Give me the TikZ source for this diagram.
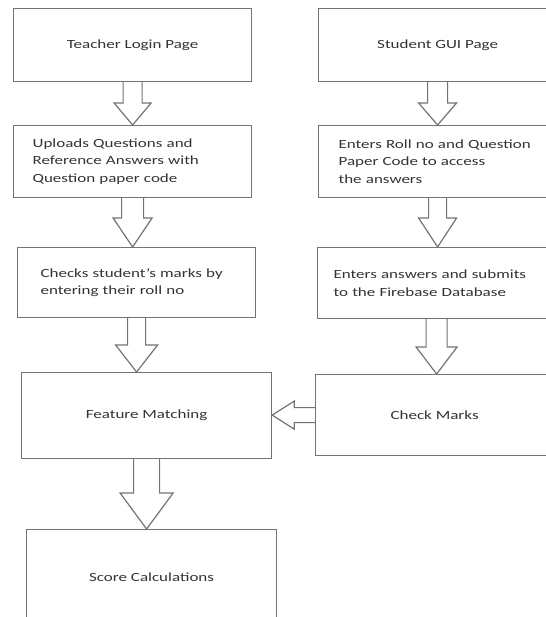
\documentclass[tikz,border=0pt]{standalone}
\usepackage{fontspec}
\setmainfont{Carlito}[FakeStretch=1.36]
\usetikzlibrary{calc}
\newcommand*{\DownArrow}[5]{% #1 = from node, #2 = to node, #3 = shaft half width, #4 = head half width, #5 = head length
\draw [fatarrow]
  ($(#1.south)+(-#3,0)$) -- ($(#1.south |- #2.north)+(-#3,#5)$)
  -- ($(#1.south |- #2.north)+(-#4,#5)$) -- (#1.south |- #2.north)
  -- ($(#1.south |- #2.north)+(#4,#5)$) -- ($(#1.south |- #2.north)+(#3,#5)$)
  -- ($(#1.south)+(#3,0)$);
}
\newcommand*{\LeftArrow}[5]{% #1 = from node, #2 = to node, #3 = shaft half width, #4 = head half width, #5 = head length
\draw [fatarrow]
  ($(#1.west)+(0,#3)$) -- ($(#1.west -| #2.east)+(#5,#3)$)
  -- ($(#1.west -| #2.east)+(#5,#4)$) -- (#1.west -| #2.east)
  -- ($(#1.west -| #2.east)+(#5,-#4)$) -- ($(#1.west -| #2.east)+(#5,-#3)$)
  -- ($(#1.west)+(0,-#3)$);
}

\begin{document}
\begin{tikzpicture}[x=1pt,y=1pt,
    box/.style={draw=black!55, line width=1.2pt, anchor=north west,
      text=black!80, font=\fontsize{12.5}{17.5}\selectfont},
    fatarrow/.style={draw=black!55, line width=1.2pt, line join=miter}]

            \useasboundingbox (0,0) rectangle (545,-617);

            % teacher side
            \node [box, minimum width=238, minimum height=73] (teacher)
              at (13,-8) {Teacher Login Page};
            \node [box, minimum width=238, minimum height=72, text width=200,
              inner xsep=19, align=left] (upload)
              at (13,-125) {Uploads Questions and\\Reference Answers with\\Question paper code};
            \node [box, minimum width=238, minimum height=70, text width=192,
              inner xsep=23, align=left] (checks)
              at (17,-247) {Checks student's marks by\\entering their roll no};
            \node [box, minimum width=250, minimum height=86] (feature)
              at (21,-372) {Feature Matching};
            \node [box, minimum width=250, minimum height=95] (score)
              at (26,-529) {Score Calculations};

            % student side
            \node [box, minimum width=238, minimum height=73] (student)
              at (318,-8) {Student GUI Page};
            \node [box, minimum width=238, minimum height=72, text width=198,
              inner xsep=20, align=left] (enters)
              at (318,-125) {Enters Roll no and Question\\Paper Code to access\\the answers};
            \node [box, minimum width=238, minimum height=71, text width=206,
              inner xsep=16, align=left] (submits)
              at (317,-247) {Enters answers and submits\\to the Firebase Database};
            \node [box, minimum width=238, minimum height=81] (check)
              at (315,-374) {Check Marks};

            \DownArrow{teacher}{upload}{9.5}{18.5}{22}
            \DownArrow{upload}{checks}{11}{19.5}{29}
            \DownArrow{checks}{feature}{9}{21}{27}
            \DownArrow{feature}{score}{13}{26.5}{36}
            \DownArrow{student}{enters}{10}{19}{22}
            \DownArrow{enters}{submits}{9}{19}{29}
            \DownArrow{submits}{check}{10.5}{20.5}{27}
            \LeftArrow{check}{feature}{7.5}{14}{22}
        \end{tikzpicture}
\end{document}
